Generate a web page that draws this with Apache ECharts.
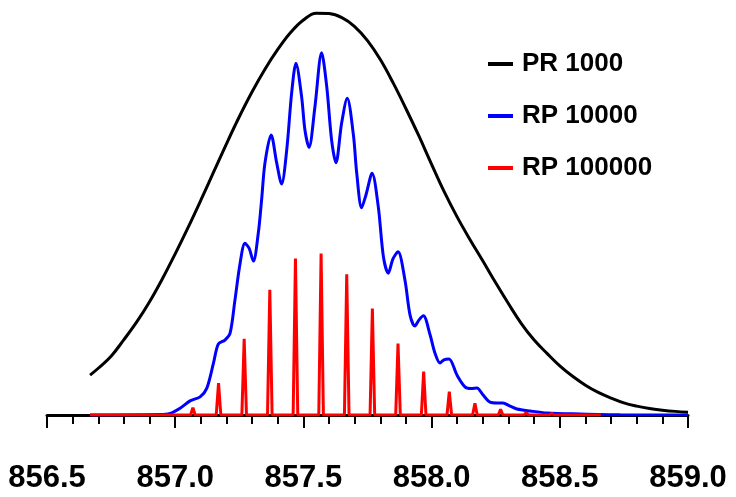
<!DOCTYPE html>
<html>
<head>
<meta charset="utf-8">
<title>Resolving power</title>
<script src="https://cdn.jsdelivr.net/npm/echarts@6.0.0/dist/echarts.min.js"></script>
<style>
  html, body { margin: 0; padding: 0; background: #fff; }
  #chart { width: 736px; height: 497px; }
</style>
</head>
<body>
<div id="chart"></div>
<script>
// m/z ticks
const tickMin = 856.5;
const tickMax = 859.0;
const tickStep = 0.5;

// PR 1000 (black), relative intensity
const blackX = [856.668, 856.70, 856.75, 856.80, 856.85, 856.90, 856.95, 857.00,
  857.05, 857.10, 857.15, 857.20, 857.25, 857.30, 857.35, 857.40, 857.45, 857.50,
  857.55, 857.60, 857.65, 857.70, 857.75, 857.80, 857.85, 857.90, 857.95, 858.00,
  858.05, 858.10, 858.15, 858.20, 858.25, 858.30, 858.35, 858.40, 858.45, 858.50,
  858.55, 858.60, 858.65, 858.70, 858.75, 858.80, 858.85, 858.90, 858.95, 859.00];
const blackY = [9.9, 11.6, 14.6, 18.7, 23.1, 28.1, 33.8, 40.0,
  46.5, 53.3, 60.3, 67.3, 74.0, 80.2, 85.8, 90.7, 94.9, 98.0,
  99.7, 99.6, 98.6, 96.4, 92.9, 88.2, 82.4, 76.0, 69.3, 62.2,
  55.3, 49.1, 43.5, 38.2, 32.8, 27.6, 22.7, 18.6, 15.3, 12.2,
  9.6, 7.4, 5.6, 4.2, 3.0, 2.2, 1.6, 1.2, 0.9, 0.7];

// RP 10000 (blue)
const blueX = [856.668, 856.940, 856.980, 857.019, 857.058, 857.097, 857.123, 857.149, 857.168,
  857.194, 857.214, 857.233, 857.253, 857.272, 857.288, 857.305, 857.324, 857.337,
  857.350, 857.374, 857.396, 857.415, 857.435, 857.454, 857.471, 857.493, 857.506,
  857.522, 857.545, 857.571, 857.591, 857.610, 857.627, 857.649, 857.671, 857.695,
  857.708, 857.727, 857.744, 857.768, 857.792, 857.812, 857.831, 857.849, 857.869,
  857.896, 857.916, 857.935, 857.951, 857.968, 857.994, 858.013, 858.033, 858.048,
  858.068, 858.099, 858.130, 858.154, 858.177, 858.200, 858.228, 858.255, 858.278,
  858.306, 858.333, 858.384, 858.450, 858.579, 858.735, 859.0];
const blueY = [0, 0.1, 0.4, 1.7, 3.5, 4.5, 6.6, 12.8, 17.6,
  18.6, 20.3, 28.5, 37.6, 42.6, 41.4, 38.2, 45.1, 53.4,
  62.5, 69.5, 62.5, 57.3, 65.8, 79.8, 87.3, 79.0, 70.7,
  66.4, 76.5, 89.9, 81.5, 68.2, 62.6, 72.4, 78.6, 69.5,
  60.0, 51.4, 54.6, 60.0, 51.7, 39.3, 35.2, 38.7, 40.5,
  33.5, 24.8, 22.1, 23.6, 24.6, 19.9, 15.4, 12.9, 13.7,
  13.9, 9.9, 7.0, 6.6, 6.7, 5.0, 3.2, 3.0, 3.0,
  2.2, 1.5, 1.0, 0.5, 0.25, 0.05, 0];

// RP 100000 (red) isotope spikes
const redX = [856.668,
  857.060, 857.069, 857.078,
  857.160, 857.169, 857.178,
  857.260, 857.269, 857.278,
  857.360, 857.369, 857.378,
  857.460, 857.469, 857.478,
  857.560, 857.569, 857.578,
  857.660, 857.669, 857.678,
  857.760, 857.769, 857.778,
  857.860, 857.869, 857.878,
  857.960, 857.969, 857.978,
  858.060, 858.069, 858.078,
  858.160, 858.169, 858.178,
  858.260, 858.269, 858.278,
  858.360, 858.369, 858.378,
  858.460, 858.469, 858.478,
  858.660];
const redY = [0,
  0, 1.8, 0,
  0, 7.9, 0,
  0, 18.9, 0,
  0, 31.1, 0,
  0, 38.8, 0,
  0, 40.1, 0,
  0, 34.9, 0,
  0, 26.4, 0,
  0, 17.7, 0,
  0, 10.8, 0,
  0, 5.8, 0,
  0, 2.9, 0,
  0, 1.4, 0,
  0, 0.6, 0,
  0, 0.4, 0,
  0];

const seriesNames = ["PR 1000", "RP 10000", "RP 100000"];
const seriesColors = ["#000000", "#0000ff", "#ff0000"];

const fontFamily = "'Liberation Sans', Arial, sans-serif";

function zip(xs, ys) {
  return xs.map((x, i) => [x, ys[i]]);
}

function makeSeries(name, color, data, smooth) {
  return {
    name,
    type: "line",
    data,
    smooth,
    symbol: "none",
    showSymbol: false,
    lineStyle: { color, width: 3 },
    itemStyle: { color },
  };
}

const chart = echarts.init(document.getElementById("chart"), null, { renderer: "canvas" });

chart.setOption({
  animation: false,
  backgroundColor: "#ffffff",
  grid: { left: 47, right: 48, top: 12, bottom: 82 },
  legend: {
    orient: "vertical",
    left: 488,
    top: 50,
    padding: 0,
    itemGap: 24,
    itemWidth: 25,
    itemHeight: 4,
    icon: "rect",
    data: seriesNames,
    textStyle: {
      color: "#000",
      fontSize: 26,
      fontWeight: "bold",
      fontFamily,
      lineHeight: 28,
      padding: [0, 0, 0, 4],
    },
  },
  xAxis: {
    type: "value",
    min: tickMin,
    max: tickMax,
    interval: tickStep,
    axisLine: { lineStyle: { color: "#000", width: 3 } },
    axisTick: { length: 13, lineStyle: { color: "#000", width: 2 } },
    minorTick: { show: true, splitNumber: 5, length: 9, lineStyle: { color: "#000", width: 2 } },
    splitLine: { show: false },
    minorSplitLine: { show: false },
    axisLabel: {
      margin: 48,
      color: "#000",
      fontSize: 31,
      fontWeight: "bold",
      fontFamily,
      formatter: (v) => v.toFixed(1),
    },
  },
  yAxis: { type: "value", min: 0, max: 100, show: false },
  series: [
    makeSeries(seriesNames[0], seriesColors[0], zip(blackX, blackY), 0.4),
    makeSeries(seriesNames[1], seriesColors[1], zip(blueX, blueY), 0.3),
    makeSeries(seriesNames[2], seriesColors[2], zip(redX, redY), false),
  ],
});
</script>
</body>
</html>
